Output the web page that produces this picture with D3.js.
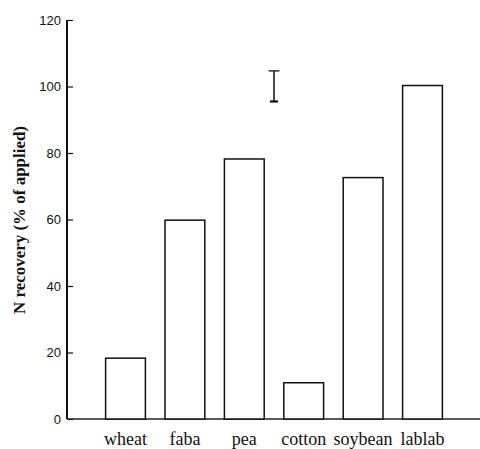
<!DOCTYPE html>
<html>
<head>
<meta charset="utf-8" />
<script src="https://d3js.org/d3.v7.js"></script>
<style>
  body { margin: 0; background: #fff; }
</style>
</head>
<body>
<svg id="chart" width="480" height="449"></svg>
<script>

// crops and their N recovery (% of applied)
var crops = ["wheat", "faba", "pea", "cotton", "soybean", "lablab"];
var recovery = [18.3, 59.8, 78.2, 10.9, 72.6, 100.3];
var yTicks = [0, 20, 40, 60, 80, 100, 120];
// LSD bar, drawn between pea and cotton
var lsdLow = 95.5, lsdHigh = 104.7;

var svg = d3.select("#chart");

var x = d3.scaleBand()
  .domain(crops)
  .range([67, 481])
  .paddingInner(0.33)
  .paddingOuter(0.65);

var y = d3.scaleLinear()
  .domain([0, 120])
  .range([419, 20]);

// y axis, ticks point into the plot
var yAxis = svg.append("g")
  .attr("transform", "translate(67,0)")
  .call(d3.axisRight(y).tickValues(yTicks).tickSize(6).tickFormat(d3.format("d")));
yAxis.select(".domain").remove();
yAxis.selectAll(".tick line").attr("stroke", "#111").attr("stroke-width", 1.2);
yAxis.selectAll(".tick text")
  .attr("x", -6)
  .attr("text-anchor", "end")
  .style("font-family", "Liberation Sans, Arial, sans-serif")
  .style("font-size", "13px")
  .style("fill", "#111");

svg.append("line")
  .attr("x1", 67).attr("x2", 67)
  .attr("y1", y(120)).attr("y2", y(0))
  .attr("stroke", "#111").attr("stroke-width", 2);

// baseline
svg.append("line")
  .attr("x1", 67).attr("x2", 480)
  .attr("y1", y(0)).attr("y2", y(0))
  .attr("stroke", "#222").attr("stroke-width", 1.5);

// bars
svg.append("g")
  .selectAll("rect")
  .data(crops)
  .enter()
  .append("rect")
  .attr("x", function(d) { return x(d); })
  .attr("y", function(d, i) { return y(recovery[i]); })
  .attr("width", x.bandwidth())
  .attr("height", function(d, i) { return y(0) - y(recovery[i]); })
  .attr("fill", "white")
  .attr("stroke", "#111")
  .attr("stroke-width", 1.5);

// category labels
svg.append("g")
  .selectAll("text")
  .data(crops)
  .enter()
  .append("text")
  .attr("x", function(d) { return x(d) + x.bandwidth() / 2; })
  .attr("y", 445)
  .attr("text-anchor", "middle")
  .style("font-family", "Liberation Serif, Times New Roman, serif")
  .style("font-size", "18px")
  .style("fill", "#111")
  .text(function(d) { return d; });

// LSD error bar
var ex = (x("pea") + x("cotton")) / 2 + x.bandwidth() / 2;
var lsd = svg.append("g").attr("stroke", "#111");
lsd.append("line").attr("x1", ex).attr("x2", ex)
  .attr("y1", y(lsdHigh)).attr("y2", y(lsdLow)).attr("stroke-width", 1.5);
lsd.append("line").attr("x1", ex - 5.5).attr("x2", ex + 5.5)
  .attr("y1", y(lsdHigh)).attr("y2", y(lsdHigh)).attr("stroke-width", 1.3);
lsd.append("line").attr("x1", ex - 4).attr("x2", ex + 4)
  .attr("y1", y(lsdLow)).attr("y2", y(lsdLow)).attr("stroke-width", 2.2);

// y axis title
svg.append("text")
  .attr("transform", "translate(25,220) rotate(-90)")
  .attr("text-anchor", "middle")
  .attr("textLength", 188)
  .attr("lengthAdjust", "spacingAndGlyphs")
  .style("font-family", "Liberation Serif, Times New Roman, serif")
  .style("font-weight", "bold")
  .style("font-size", "16px")
  .style("fill", "#111")
  .text("N recovery (% of applied)");

</script>
</body>
</html>
